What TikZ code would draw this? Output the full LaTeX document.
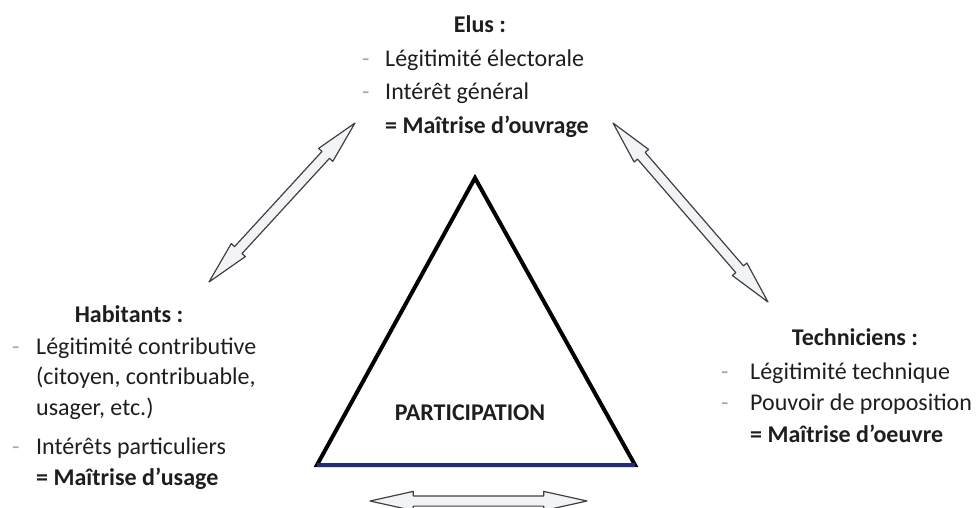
\documentclass[tikz,border=0pt]{standalone}
\usepackage{fontspec}
\setmainfont{Carlito}
\usepackage{tikz}
\usetikzlibrary{calc}
\usetikzlibrary{shapes.arrows}

\definecolor{ink}{HTML}{1E1E1E}
\definecolor{navy}{HTML}{1F2C78}
\definecolor{arrowfill}{HTML}{F2F3F6}

\tikzset{
	txt/.style={font=\fontsize{24}{30}\selectfont, text=ink, inner sep=0pt, anchor=base west},
	boldtxt/.style={txt, font=\fontsize{24}{30}\selectfont\bfseries},
	head/.style={boldtxt, anchor=base},
	tiret/.style={txt, text=gray!70},
	dblarrow/.style={double arrow, draw=ink!85, fill=arrowfill, line width=1.2pt,
	                 line join=round, inner sep=0pt, inner ysep=4.5pt,
	                 double arrow head extend=4.5pt, double arrow tip angle=25}
}

\begin{document}
\begin{tikzpicture}[x=1pt,y=-1pt]
	\useasboundingbox (0,0) rectangle (978,508);

	% triangle
	\coordinate (apex) at (475,178);
	\coordinate (basel) at (317,465);
	\coordinate (baser) at (635,465);
	\draw[line width=4pt, line join=miter] (basel) -- (apex) -- (baser) -- cycle;
	\draw[navy, line width=4pt] (basel) -- (baser);
	\node[head] (part) at (470,420) {PARTICIPATION};

	% Elus
	\node[head] (elus) at (480,33) {Elus :};
	\node[tiret] (e1d) at (362,67) {-};
	\node[txt] (e1) at (385,67) {Légitimité électorale};
	\node[tiret] (e2d) at (362,100) {-};
	\node[txt] (e2) at (385,100) {Intérêt général};
	\node[boldtxt] (e3) at (385,134) {= Maîtrise d’ouvrage};

	% Habitants
	\node[head] (hab) at (129,322) {Habitants :};
	\node[tiret] (h1d) at (12,354) {-};
	\node[txt] (h1) at (36,354) {Légitimité contributive};
	\node[txt] (h2) at (36,384) {(citoyen, contribuable,};
	\node[txt] (h3) at (36,415) {usager, etc.)};
	\node[tiret] (h4d) at (12,454) {-};
	\node[txt] (h4) at (36,454) {Intérêts particuliers};
	\node[boldtxt] (h5) at (36,485) {= Maîtrise d’usage};

	% Techniciens
	\node[head] (tec) at (855,345) {Techniciens :};
	\node[tiret] (t1d) at (721,379) {-};
	\node[txt] (t1) at (750,379) {Légitimité technique};
	\node[tiret] (t2d) at (721,410) {-};
	\node[txt] (t2) at (750,410) {Pouvoir de proposition};
	\node[boldtxt] (t3) at (750,442) {= Maîtrise d’oeuvre};

	% double arrows
	\coordinate (lt) at (355,123);
	\coordinate (lb) at (209,282);
	\coordinate (rt) at (613,123);
	\coordinate (rb) at (768,302);
	\coordinate (bl) at (370,501);
	\coordinate (br) at (587,501);
	\foreach \a/\b in {lb/lt, rb/rt, bl/br}{
		\path let \p1=($(\b)-(\a)$), \n1={atan2(\y1,\x1)}, \n2={veclen(\x1,\y1)} in
			node[dblarrow, rotate=\n1, minimum height=\n2] (arr-\a) at ($(\a)!.5!(\b)$) {};
	}
\end{tikzpicture}
\end{document}
